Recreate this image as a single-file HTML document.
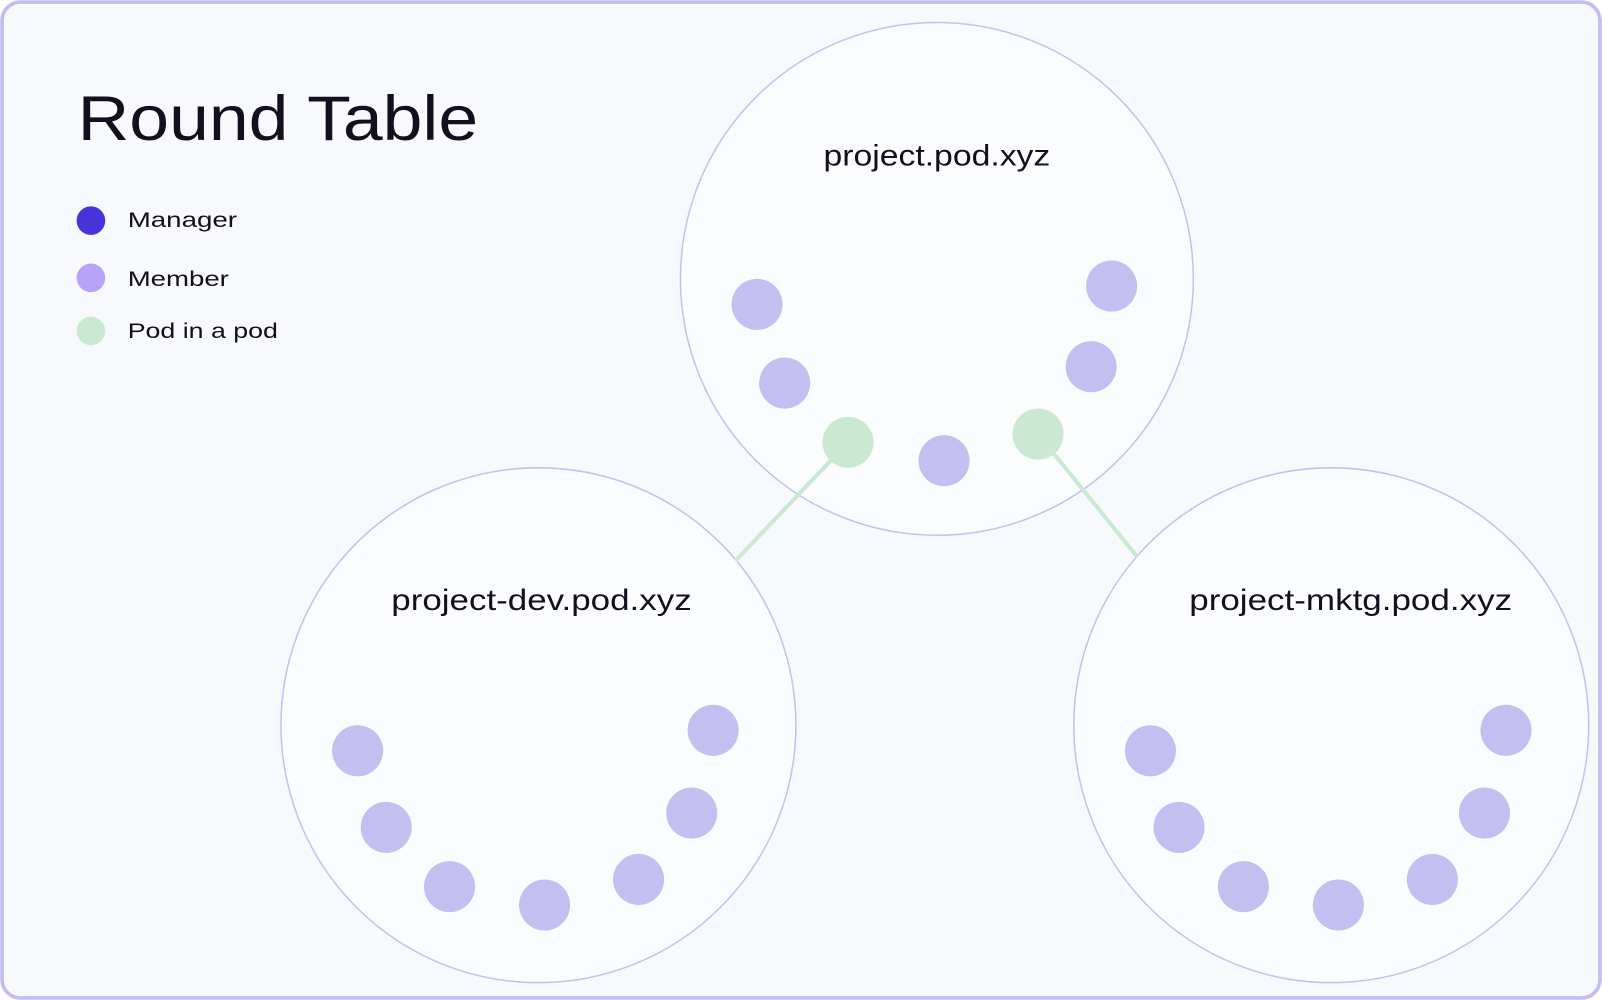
<!DOCTYPE html>
<html><head><meta charset="utf-8"><style>
html,body{margin:0;padding:0;background:#fff;}
svg{display:block;}
text{font-family:"Liberation Sans",sans-serif;fill:#12101f;}
</style></head><body>
<svg width="1602" height="1000" viewBox="0 0 1568 979" preserveAspectRatio="none">
<rect x="2" y="2" width="1564" height="975" rx="18" fill="#f8f9fc" stroke="#c4bdf2" stroke-width="3.5"/>
<text x="76" y="137" font-size="62" textLength="392" lengthAdjust="spacingAndGlyphs">Round Table</text>
<circle cx="89" cy="216" r="14" fill="#4633d9"/>
<circle cx="89" cy="272" r="14" fill="#b9a3f8"/>
<circle cx="89" cy="324" r="14" fill="#cbe8d3"/>
<text x="125" y="222" font-size="21" textLength="107" lengthAdjust="spacingAndGlyphs">Manager</text>
<text x="125" y="280" font-size="21" textLength="99" lengthAdjust="spacingAndGlyphs">Member</text>
<text x="125" y="331" font-size="21" textLength="147" lengthAdjust="spacingAndGlyphs">Pod in a pod</text>
<g fill="#fbfcfe" stroke="#c6c0f0" stroke-width="1.5">
<circle cx="917" cy="273" r="251"/>
<circle cx="527" cy="710" r="252"/>
<circle cx="1303" cy="710" r="252"/>
</g>
<g stroke="#cbe8d3" stroke-width="4">
<line x1="830" y1="433" x2="720" y2="549"/>
<line x1="1016" y1="425" x2="1113" y2="545"/>
</g>
<g fill="#c4bff0">
<circle cx="741" cy="298" r="25"/><circle cx="768" cy="375" r="25"/><circle cx="924" cy="451" r="25"/><circle cx="1068" cy="359" r="25"/><circle cx="1088" cy="280" r="25"/>
<circle cx="350" cy="735" r="25"/><circle cx="378" cy="810" r="25"/><circle cx="440" cy="868" r="25"/><circle cx="533" cy="886" r="25"/><circle cx="625" cy="861" r="25"/><circle cx="677" cy="796" r="25"/><circle cx="698" cy="715" r="25"/>
<circle cx="1126" cy="735" r="25"/><circle cx="1154" cy="810" r="25"/><circle cx="1217" cy="868" r="25"/><circle cx="1310" cy="886" r="25"/><circle cx="1402" cy="861" r="25"/><circle cx="1453" cy="796" r="25"/><circle cx="1474" cy="715" r="25"/>
</g>
<circle cx="830" cy="433" r="25" fill="#cbe8d3"/>
<circle cx="1016" cy="425" r="25" fill="#cbe8d3"/>
<text x="806" y="162" font-size="29" textLength="222" lengthAdjust="spacingAndGlyphs">project.pod.xyz</text>
<text x="383" y="597" font-size="29" textLength="294" lengthAdjust="spacingAndGlyphs">project-dev.pod.xyz</text>
<text x="1164" y="597" font-size="29" textLength="316" lengthAdjust="spacingAndGlyphs">project-mktg.pod.xyz</text>
</svg>
</body></html>
